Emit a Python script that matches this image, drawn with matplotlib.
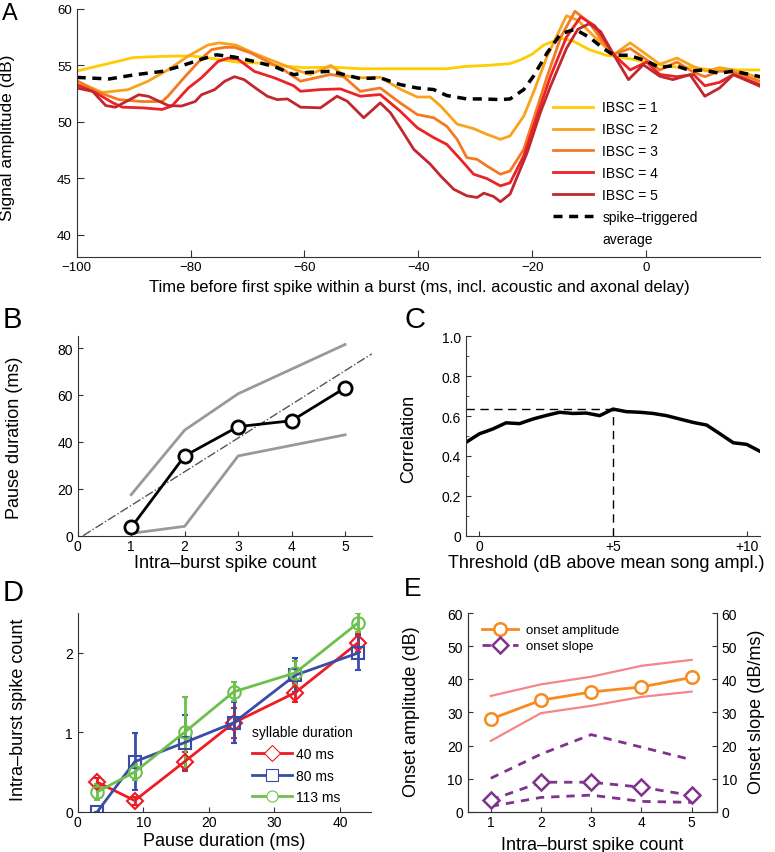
import matplotlib.pyplot as plt
from matplotlib.lines import Line2D
from matplotlib.ticker import MultipleLocator

plt.rcParams['font.family'] = ['Liberation Sans', 'DejaVu Sans']
plt.rcParams['axes.linewidth'] = 0.8
plt.rcParams['axes.edgecolor'] = '#333333'
plt.rcParams['xtick.direction'] = 'in'
plt.rcParams['ytick.direction'] = 'in'
plt.rcParams['xtick.color'] = '#333333'
plt.rcParams['ytick.color'] = '#333333'
plt.rcParams['xtick.labelcolor'] = 'black'
plt.rcParams['ytick.labelcolor'] = 'black'
plt.rcParams['xtick.major.pad'] = 2.5

# ---- A: amplitude before first spike, per intra-burst spike count
ibsc1_t = [-100, -95, -90, -85, -80, -76, -72, -68, -64, -60, -55, -50, -45, -40, -35, -32,
           -28, -24, -22, -20, -18, -15, -13, -10, -7, -4, 0, 4, 8, 12, 16, 20]
ibsc1_v = [54.5, 55.1, 55.7, 55.8, 55.85, 55.6, 55.3, 55.2, 54.95, 54.8, 54.85, 54.7, 54.7, 54.7,
           54.7, 54.9, 55.0, 55.15, 55.5, 56.0, 56.8, 57.4, 57.2, 56.4, 55.9, 55.7, 55.3, 54.9,
           54.8, 54.6, 54.6, 54.6]

ibsc2_t = [-100, -95.5, -91, -87.5, -84, -80.5, -77, -75, -72, -69, -65, -61.5, -59, -55.4, -53,
           -50.2, -46.7, -43.2, -40.2, -37.9, -36.1, -33.2, -30.3, -28, -25.6, -23.9, -21.5, -19.8,
           -17.4, -14, -12, -9, -5.7, -2.8, 0.1, 2.4, 5.4, 8.3, 10.6, 12.9, 15.3, 20]
ibsc2_v = [53.6, 52.6, 52.85, 53.6, 54.6, 55.8, 56.8, 57.0, 56.8, 56.1, 55.3, 54.6, 54.2, 55.0, 54.1,
           53.9, 53.95, 52.9, 52.2, 52.2, 51.4, 49.8, 49.4, 48.9, 48.45, 48.75, 50.5, 52.6,
           55.8, 59.4, 59.0, 57.5, 55.95, 57.0, 55.95, 55.1, 55.65, 54.9, 54.5, 54.8, 54.6, 53.9]

ibsc3_t = [-100, -96.6, -92.6, -88.5, -85, -84, -81, -78, -76.3, -74, -72.3, -69.4, -66.5, -63.6,
           -60.7, -55.4, -53.1, -50.2, -46.7, -43.2, -40.2, -37.3, -35, -33.2, -31.5, -29.7, -28,
           -25.6, -23.9, -21.5, -19.8, -17.4, -15, -12.5, -10, -7.5, -5.7, -2.8, 0.1, 2.4, 5.4,
           8.3, 10.3, 12.9, 15.3, 20]
ibsc3_v = [53.65, 52.7, 51.97, 51.8, 51.8, 52.26, 54.0, 55.65, 56.4, 56.6, 56.6, 56.1, 55.35, 54.6,
           53.6, 54.2, 54.0, 52.7, 53.0, 51.68, 50.65, 50.36, 49.6, 48.45, 46.83, 46.68, 46.1,
           45.36, 45.65, 47.56, 50.2, 54.0, 57.5, 59.8, 58.8, 57.0, 56.0, 56.5, 55.5, 54.6, 55.3,
           54.4, 54.0, 54.5, 54.4, 53.6]

ibsc4_t = [-100, -96.6, -93.7, -92, -88.5, -85, -83.3, -80.4, -78.1, -75.2, -73.4, -71.7, -68.8,
           -65.3, -61.9, -60.7, -57.2, -53.7, -50.2, -46.7, -43.2, -40.2, -37.3, -35, -32.6, -30.3,
           -28, -25.6, -23.9, -21.5, -19.2, -16.8, -14, -11.5, -9, -7, -5.7, -2.8, 0.1, 2.4, 5.4,
           8.3, 10.3, 12.9, 15.3, 20]
ibsc4_v = [53.3, 52.56, 51.7, 51.3, 51.24, 51.1, 51.4, 53.0, 53.9, 55.35, 55.65, 55.56, 54.47,
           53.9, 53.2, 52.71, 52.86, 52.92, 52.27, 52.42, 50.95, 49.48, 48.6, 48.0, 46.68, 45.36,
           44.98, 44.33, 44.6, 46.98, 50.5, 54.03, 57.5, 59.3, 58.5, 57.0, 55.95, 54.6, 55.3, 54.2,
           54.0, 54.2, 53.2, 53.5, 54.2, 53.3]

ibsc5_t = [-100, -97.2, -94.9, -93.2, -89.1, -87.4, -83.9, -81.6, -79.2, -78.1, -75.8, -74, -72.3,
           -70.6, -68.2, -66.5, -64.8, -63, -60.7, -57.2, -54.3, -52.5, -49.6, -46.7, -44.9, -43.2,
           -40.8, -37.9, -36.1, -33.8, -31.5, -29.7, -28.5, -26.8, -25.6, -23.9, -20.9, -18.6,
           -16.8, -14, -12, -10, -8, -5.7, -3.1, -0.5, 2.4, 4.7, 7.7, 10.3, 12.9, 15.3, 20]
ibsc5_v = [53.0, 52.7, 51.44, 51.3, 52.4, 52.26, 51.44, 51.4, 51.8, 52.4, 52.85, 53.6, 54.0, 53.74,
           52.85, 52.26, 51.97, 52.03, 51.3, 51.24, 52.27, 51.83, 50.36, 51.68, 50.8, 49.48, 47.56,
           46.24, 45.21, 44.03, 43.45, 43.3, 43.68, 43.39, 42.92, 43.6, 47.27, 50.8, 53.15, 56.5,
           58.2, 58.7, 58.0, 55.95, 53.74, 55.06, 54.04, 53.74, 54.18, 52.27, 53.0, 54.18, 53.15]

sta_t = [-100, -94.3, -89.7, -85, -82, -78, -75.5, -72.3, -68.8, -65.3, -61.9, -59.5, -55.4, -50.2,
         -46.7, -43.2, -40.2, -37.3, -35, -31.5, -28.5, -25.6, -23.9, -21.5, -19.8, -17.4, -15,
         -12.5, -10, -7.5, -5.7, -3, 0, 2.4, 5, 8, 10, 12.9, 15.3, 20]
sta_v = [53.94, 53.8, 54.18, 54.47, 54.9, 55.56, 55.94, 55.74, 55.35, 54.9, 54.18, 54.38, 54.48,
         53.83, 53.9, 53.3, 53.0, 52.86, 52.33, 52.03, 52.03, 51.97, 52.03, 52.86, 54.04, 56.1,
         57.8, 58.2, 57.5, 56.5, 55.9, 55.9, 55.4, 54.8, 55.0, 54.5, 54.6, 54.3, 54.5, 54.0]

ibsc_labels = ['IBSC = 1', 'IBSC = 2', 'IBSC = 3', 'IBSC = 4', 'IBSC = 5']
ibsc_colors = ['#FFCC00', '#F9A21B', '#F47A22', '#EC2227', '#C1272D']

# ---- B: pause duration vs spike count
spike_count = [1, 2, 3, 4, 5]
pause_median = [3.5, 34, 46.5, 49, 63]
pause_upper = [17.5, 45, 60.5, 71, 81.5]
pause_lower = [1, 4, 34, 38.5, 43]
fit_x = [0.1, 5.5]
fit_y = [0, 77.5]

# ---- C: correlation vs threshold
threshold = [-0.5, 0, 0.5, 1, 1.5, 2, 2.5, 3, 3.5, 4, 4.5, 5, 5.5, 6, 6.5, 7, 7.5, 8, 8.5, 9,
             9.5, 10, 10.5]
correlation = [0.468, 0.511, 0.535, 0.566, 0.562, 0.585, 0.603, 0.619, 0.613, 0.615, 0.602, 0.635,
               0.622, 0.619, 0.613, 0.602, 0.585, 0.568, 0.555, 0.511, 0.466, 0.458, 0.423]
best_thr = 5
best_corr = 0.635

# ---- D: spike count vs pause, per syllable duration
pause_x = [3.0, 8.7, 16.3, 23.8, 33.2, 42.8]
cnt_40 = [0.37, 0.14, 0.63, 1.12, 1.5, 2.13]
err_40 = [0.05, 0.05, 0.12, 0.19, 0.12, 0.12]
cnt_80 = [0.0, 0.63, 0.87, 1.12, 1.72, 2.0]
err_80 = [0.0, 0.36, 0.35, 0.26, 0.21, 0.22]
cnt_113 = [0.25, 0.5, 1.0, 1.51, 1.75, 2.38]
err_113 = [0.1, 0.1, 0.44, 0.12, 0.15, 0.12]

# ---- E: onset amplitude and slope
amp_mean = [28.0, 33.7, 36.2, 37.7, 40.6]
amp_upper = [35.0, 38.5, 40.8, 44.1, 45.9]
amp_lower = [21.4, 29.8, 32.0, 34.7, 36.3]
slope_mean = [3.5, 8.9, 8.9, 7.4, 4.9]
slope_upper = [10.1, 17.4, 23.3, 19.5, 15.7]
slope_lower = [1.6, 4.3, 5.0, 3.1, 2.8]

fig = plt.figure(figsize=(7.75, 8.53), dpi=100)


def box_off(ax):
    ax.spines['top'].set_visible(False)
    ax.spines['right'].set_visible(False)


# A
axA = fig.add_axes([0.099, 0.6972, 0.8817, 0.2911])
curves = [(ibsc1_t, ibsc1_v), (ibsc2_t, ibsc2_v), (ibsc3_t, ibsc3_v),
          (ibsc4_t, ibsc4_v), (ibsc5_t, ibsc5_v)]
handles = []
for (t, v), c, lab in zip(curves, ibsc_colors, ibsc_labels):
    h, = axA.plot(t, v, color=c, lw=2, label=lab)
    handles.append(h)
h, = axA.plot(sta_t, sta_v, color='black', lw=2.5, ls='--', dashes=(2.6, 1.9),
              label='spike\u2013triggered')
handles.append(h)
handles.append(Line2D([], [], color='none', label='average'))
axA.set_xlim(-100, 20)
axA.set_ylim(38, 60)
axA.set_xticks([-100, -80, -60, -40, -20, 0])
axA.set_xticklabels(['\u2212100', '\u221280', '\u221260', '\u221240', '\u221220', '0'])
axA.set_yticks([40, 45, 50, 55, 60])
box_off(axA)
axA.tick_params(labelsize=9.5, length=5, width=0.8)
axA.set_xlabel('Time before first spike within a burst (ms, incl. acoustic and axonal delay)',
               fontsize=12)
axA.set_ylabel('Signal amplitude (dB)', fontsize=12.5)
axA.xaxis.set_label_coords(0.501, -0.087)
axA.yaxis.set_label_coords(-0.09, 0.4865)
fig.legend(handles=handles, loc='upper left', bbox_to_anchor=(0.7135, 1 - 101.5 / 853),
           frameon=False, fontsize=10, handlelength=2.9, handletextpad=0.65,
           labelspacing=0.57, borderpad=0, borderaxespad=0)

# B
axB = fig.add_axes([0.1003, 0.3708, 0.3794, 0.2338])
axB.plot(spike_count, pause_upper, color='#999999', lw=2)
axB.plot(spike_count, pause_lower, color='#999999', lw=2)
axB.plot(fit_x, fit_y, color='#555555', lw=1, ls='-.')
axB.plot(spike_count, pause_median, color='black', lw=2, marker='o', ms=9.5,
         mfc='white', mec='black', mew=2)
axB.set_xlim(0, 5.5)
axB.set_ylim(0, 85)
axB.set_xticks([0, 1, 2, 3, 4, 5])
axB.set_yticks([0, 20, 40, 60, 80])
box_off(axB)
axB.tick_params(labelsize=10, length=3.5, width=0.8)
axB.set_xlabel('Intra\u2013burst spike count', fontsize=13)
axB.set_ylabel('Pause duration (ms)', fontsize=13)
axB.xaxis.set_label_coords(0.501, -0.09)
axB.yaxis.set_label_coords(-0.186, 0.497)

# C
axC = fig.add_axes([0.6013, 0.3708, 0.3794, 0.2338])
axC.plot(threshold, correlation, color='black', lw=2.5)
axC.plot([-0.5, best_thr], [best_corr, best_corr], color='black', lw=1, ls='--', dashes=(6, 4))
axC.plot([best_thr, best_thr], [0, best_corr], color='black', lw=1, ls='--', dashes=(6, 4))
axC.set_xlim(-0.5, 10.5)
axC.set_ylim(0, 1.0)
axC.set_xticks([0, 5, 10])
axC.set_xticklabels(['0', '+5', '+10'])
axC.set_yticks([0, 0.2, 0.4, 0.6, 0.8, 1.0])
axC.set_yticklabels(['0', '0.2', '0.4', '0.6', '0.8', '1.0'])
axC.yaxis.set_minor_locator(MultipleLocator(0.1))
box_off(axC)
axC.tick_params(labelsize=10, length=3.5, width=0.8)
axC.tick_params(which='minor', length=2.5, width=0.6)
axC.set_xlabel('Threshold (dB above mean song ampl.)', fontsize=13)
axC.set_ylabel('Correlation', fontsize=13)
axC.xaxis.set_label_coords(0.478, -0.094)
axC.yaxis.set_label_coords(-0.167, 0.492)

# D
axD = fig.add_axes([0.1003, 0.0473, 0.378, 0.2326])
series_d = [(cnt_40, err_40, '#ED1C24', 'D', '40 ms'),
            (cnt_80, err_80, '#3B4BA8', 's', '80 ms'),
            (cnt_113, err_113, '#6DC04B', 'o', '113 ms')]
d_handles = []
for y, e, c, m, lab in series_d:
    axD.errorbar(pause_x, y, yerr=e, color=c, lw=2, elinewidth=2, capsize=2.5, capthick=1.5,
                 marker=m, ms=9 if m == 'o' else 8, mfc='none', mec=c, mew=1.5)
    d_handles.append(Line2D([], [], color=c, lw=2, marker=m, ms=8, mfc='white', mec=c,
                            mew=0.8, label=lab))
axD.set_xlim(0, 44.7)
axD.set_ylim(0, 2.5)
axD.set_xticks([0, 10, 20, 30, 40])
axD.set_yticks([0, 1, 2])
box_off(axD)
axD.tick_params(labelsize=10, length=3.5, width=0.8)
axD.set_xlabel('Pause duration (ms)', fontsize=13)
axD.set_ylabel('Intra\u2013burst spike count', fontsize=13)
axD.xaxis.set_label_coords(0.501, -0.105)
axD.yaxis.set_label_coords(-0.173, 0.518)
fig.legend(handles=d_handles, title='syllable duration', title_fontsize=10, loc='upper left',
           bbox_to_anchor=(252 / 775, 1 - 726 / 853), frameon=False, fontsize=10,
           handlelength=2.9, handletextpad=0.25, labelspacing=0.56, borderpad=0,
           borderaxespad=0, alignment='left')

# E
axE = fig.add_axes([0.6035, 0.0473, 0.3213, 0.2326])
axE2 = axE.twinx()
axE.plot(spike_count, amp_upper, color='#F4868A', lw=1.6)
axE.plot(spike_count, amp_lower, color='#F4868A', lw=1.6)
hE1, = axE.plot(spike_count, amp_mean, color='#F68B1F', lw=2, marker='o', ms=9,
                mfc='white', mec='#F68B1F', mew=1.8, label='onset amplitude')
axE2.plot(spike_count, slope_upper, color='#80338C', lw=2, ls='--', dashes=(3, 2.5))
axE2.plot(spike_count, slope_lower, color='#80338C', lw=2, ls='--', dashes=(3, 2.5))
hE2, = axE2.plot(spike_count, slope_mean, color='#80338C', lw=2, ls='--', dashes=(3, 2.5),
                 marker='D', ms=8, mfc='white', mec='#80338C', mew=1.8, label='onset slope')
for ax in (axE, axE2):
    ax.set_xlim(0.54, 5.5)
    ax.set_ylim(0, 60)
    ax.set_yticks([0, 10, 20, 30, 40, 50, 60])
    ax.spines['top'].set_visible(False)
    ax.tick_params(labelsize=10, length=3.5, width=0.8)
axE.set_xticks([1, 2, 3, 4, 5])
axE.set_xlabel('Intra\u2013burst spike count', fontsize=13)
axE.set_ylabel('Onset amplitude (dB)', fontsize=13)
axE2.set_ylabel('Onset slope (dB/ms)', fontsize=13)
axE.xaxis.set_label_coords(0.501, -0.121)
axE.yaxis.set_label_coords(-0.19, 0.51)
axE2.yaxis.set_label_coords(1.126, 0.507)
fig.legend(handles=[hE1, hE2], loc='upper left', bbox_to_anchor=(482 / 775, 1 - 625 / 853),
           frameon=False, fontsize=9.5, handlelength=2.75, handletextpad=0.55,
           labelspacing=0.3, borderpad=0, borderaxespad=0)

# panel letters
fig.text(0.003, 1 - 3 / 853, 'A', fontsize=17, va='top')
fig.text(0.003, 1 - 306 / 853, 'B', fontsize=21, va='top')
fig.text(405 / 775, 1 - 306 / 853, 'C', fontsize=21, va='top')
fig.text(0.003, 1 - 579 / 853, 'D', fontsize=21, va='top')
fig.text(404 / 775, 1 - 577 / 853, 'E', fontsize=19, va='top')

fig.savefig('out.png', dpi=100)
